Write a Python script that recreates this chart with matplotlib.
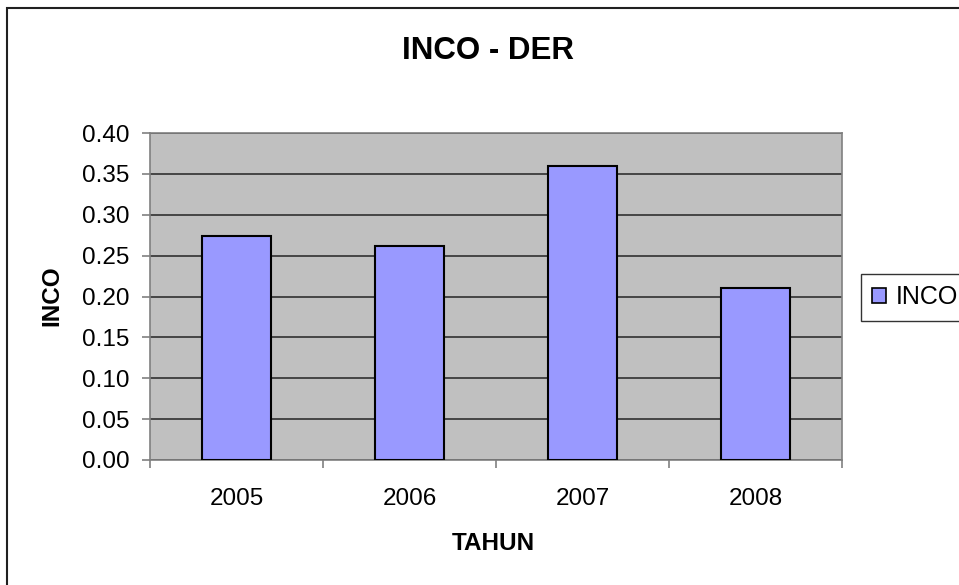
import matplotlib
matplotlib.use("Agg")
import matplotlib.pyplot as plt
from matplotlib.patches import Rectangle, Patch
import numpy as np

years = ["2005", "2006", "2007", "2008"]
inco = [0.274, 0.262, 0.360, 0.211]
yticks = [0.00, 0.05, 0.10, 0.15, 0.20, 0.25, 0.30, 0.35, 0.40]

plt.rcParams['font.family'] = ['Liberation Sans', 'DejaVu Sans']

W, H = 959, 585
fig = plt.figure(figsize=(W / 100, H / 100), dpi=100)

# outer chart border (runs off the right and bottom edge)
fig.patches.append(Rectangle((7 / W, -0.1), 1.2, 1.1 - 8.5 / H,
                             transform=fig.transFigure, fill=False,
                             edgecolor="#202020", lw=1.5))

ax = fig.add_axes([150 / W, 1 - 460 / H, 692 / W, 327 / H])
ax.set_facecolor("#C0C0C0")

x = np.arange(len(years))
ax.bar(x, inco, width=0.4, color="#9999FF", edgecolor="black", lw=1.5,
       zorder=3, label="INCO")

ax.set_xlim(-0.5, len(years) - 0.5)
ax.set_ylim(0, 0.40)
ax.set_yticks(yticks)
ax.set_yticklabels(["%.2f" % v for v in yticks])
ax.set_xticks(x)
ax.set_xticklabels(years)
ax.set_xticks(np.arange(len(years) + 1) - 0.5, minor=True)

ax.grid(axis="y", color="#303030", lw=1.2, zorder=1)
for s in ax.spines.values():
    s.set_color("#808080")
    s.set_linewidth(1.2)

ax.tick_params(axis="y", labelsize=17.5, length=6, width=1.2,
               color="#808080", pad=9)
ax.tick_params(axis="x", which="major", labelsize=17.5, length=0, pad=20)
ax.tick_params(axis="x", which="minor", length=6, width=1.2,
               color="#808080")

fig.text(488 / W, 1 - 51 / H, "INCO - DER", ha="center", va="center",
         fontsize=22.5, fontweight="bold")
fig.text(52 / W, 1 - 296 / H, "INCO", ha="center", va="center",
         rotation=90, fontsize=17.5, fontweight="bold")
fig.text(493 / W, 1 - 544 / H, "TAHUN", ha="center", va="center",
         fontsize=17.5, fontweight="bold")

leg = fig.legend(handles=[Patch(facecolor="#9999FF", edgecolor="black", lw=1.2)],
                 labels=["INCO"], loc="upper left",
                 bbox_to_anchor=(861 / W, 1 - 274 / H), fontsize=18,
                 frameon=True, fancybox=False, edgecolor="black",
                 handlelength=0.55, handleheight=0.55, handletextpad=0.4,
                 borderpad=0.45, borderaxespad=0)
leg.get_frame().set_linewidth(1.0)

fig.savefig("out.png", dpi=100)
